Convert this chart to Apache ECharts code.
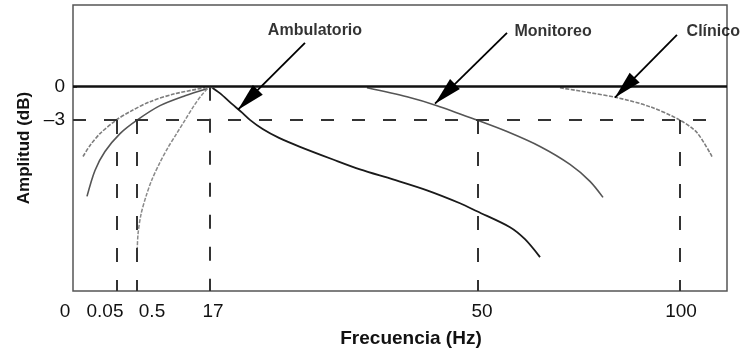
<!DOCTYPE html>
<html>
<head>
<meta charset="utf-8">
<script src="https://cdn.jsdelivr.net/npm/echarts@6/dist/echarts.min.js"></script>
<style>
  html, body { margin: 0; padding: 0; background: #ffffff; }
  #chart { width: 742px; height: 353px; }
</style>
</head>
<body>
<div id="chart"></div>
<script>
// x axis is a schematic (non-linear) frequency axis, expressed in relative units 0..100
const xTickLabels = ['0', '0.05', '0.5', '17', '50', '100'];
const xTickValues = [0, 4.89, 12.08, 21.41, 62.54, 92.97];
const yTickLabels = ['0', '\u20133'];
const yTickValues = [0, -3];

// cut-off frequencies (schematic axis units) and where their guide lines start (dB)
const cutoffX   = [6.73, 9.79, 20.95, 61.93, 92.81];
const cutoffTop = [-3, -3, 0, -3, -3];
const minus3End = 97.7;

// curves: [axis unit, dB]
const clinicoHP = [[1.53,-6.27],[2.60,-5.28],[4.13,-4.21],[6.6,-3.0],[8.72,-2.24],[11.77,-1.34],[15.60,-0.63],[20.18,-0.09]];
const clinicoLP = [[74.46,-0.09],[79.05,-0.54],[83.2,-0.98],[88.2,-1.79],[92.8,-3.0],[95.4,-4.12],[97.7,-6.27]];
const monitoreoHP = [[2.14,-9.85],[3.36,-7.52],[4.89,-5.82],[7.19,-4.21],[9.79,-3.0],[13.30,-1.70],[17.13,-0.81],[20.49,-0.18]];
const monitoreoLP = [[44.95,-0.09],[51.07,-0.90],[55.66,-1.70],[61.77,-3.0],[66.36,-4.03],[71.41,-5.37],[75.99,-6.98],[79.05,-8.50],[81.04,-9.94]];
const ambulatorioHP = [[9.79,-15.22],[9.94,-13.25],[10.40,-11.46],[11.16,-9.85],[12.08,-8.33],[13.30,-6.80],[14.53,-5.46],[15.75,-4.30],[17.13,-3.0],[18.50,-1.70],[19.72,-0.72],[20.95,0.05]];
const ambulatorioLP = [[20.95,0.05],[22.5,-0.6],[24.2,-1.5],[25.9,-2.35],[27.1,-3.0],[29.0,-3.8],[31.5,-4.6],[34.71,-5.4],[39.76,-6.54],[43.88,-7.43],[48.93,-8.33],[54.13,-9.31],[59.17,-10.47],[61.77,-11.19],[66.82,-12.62],[69.11,-13.7],[71.41,-15.31]];
const ambulatorioPeak = [[20.95, 0.25]];

// annotations
const annotationNames = ['Ambulatorio', 'Monitoreo', 'Cl\u00ednico'];
const annotationText  = [[37.0, 5.01], [73.4, 4.92], [97.9, 4.92]];
const arrowFrom = [[35.47, 3.94], [66.36, 4.83], [92.35, 4.66]];
const arrowTo   = [[25.23, -2.06], [55.35, -1.52], [82.87, -0.98]];

const yMin = -18.35, yMax = 7.34;

const chart = echarts.init(document.getElementById('chart'), null, { renderer: 'canvas' });

const refLines = [{ yAxis: 0, lineStyle: { color: '#111', width: 2.5, type: 'solid' } }];
refLines.push([{ coord: [0, -3], lineStyle: { color: '#333', width: 2, type: [13, 18] } }, { coord: [minus3End, -3] }]);
cutoffX.forEach((cx, i) => {
  refLines.push([{ coord: [cx, cutoffTop[i]], lineStyle: { color: '#333', width: 2, type: [14, 18] } }, { coord: [cx, yMin] }]);
});

const arrows = arrowFrom.map((p, i) => [{ coord: p }, { coord: arrowTo[i] }]);
// arrow head whose tip sits at the centre of its box (so the tip lands on the end point)
const arrowHead = 'path://M0,-28M0,0L7,28L-7,28Z';

const curveBase = { type: 'line', showSymbol: false, smooth: 0.3, silent: true, z: 3 };

const option = {
  animation: false,
  textStyle: { fontFamily: 'Liberation Sans, Arial, sans-serif' },
  grid: { left: 73, right: 15, top: 5, bottom: 61, show: true, borderColor: '#555', borderWidth: 1.5, containLabel: false },
  xAxis: {
    type: 'value', min: 0, max: 100,
    name: 'Frecuencia (Hz)', nameLocation: 'middle', nameGap: 38,
    nameTextStyle: { fontSize: 19, fontWeight: 'bold', color: '#111', padding: [0, 0, 0, 22] },
    axisLine: { show: false },
    splitLine: { show: false },
    axisTick: { show: false },
    axisLabel: {
      customValues: xTickValues, margin: 11, fontSize: 19, color: '#111',
      formatter: function (v) {
        const i = xTickValues.findIndex(t => Math.abs(t - v) < 1e-6);
        const s = i >= 0 ? xTickLabels[i] : '';
        return i === 0 ? '{z|' + s + '}' : s;
      },
      rich: { z: { fontSize: 19, color: '#111', padding: [0, 16, 0, 0] } }
    }
  },
  yAxis: {
    type: 'value', min: yMin, max: yMax,
    name: 'Amplitud (dB)', nameLocation: 'middle', nameGap: 40,
    nameTextStyle: { fontSize: 17, fontWeight: 'bold', color: '#111' },
    axisLine: { show: false },
    splitLine: { show: false },
    axisTick: { show: true, inside: true, length: 4, customValues: yTickValues, lineStyle: { color: '#333', width: 1.5 } },
    axisLabel: {
      customValues: yTickValues, margin: 8, fontSize: 19, color: '#111',
      formatter: function (v) {
        const i = yTickValues.findIndex(t => Math.abs(t - v) < 1e-6);
        return i >= 0 ? yTickLabels[i] : '';
      }
    }
  },
  series: [
    {
      type: 'line', name: 'referencias', data: [], silent: true, z: 2,
      markLine: { silent: true, symbol: 'none', label: { show: false }, data: refLines, animation: false }
    },
    Object.assign({}, curveBase, { name: 'Cl\u00ednico', data: clinicoHP, lineStyle: { color: '#7d7d7d', width: 1.6, type: [4, 1.5] } }),
    Object.assign({}, curveBase, { name: 'Cl\u00ednico', data: clinicoLP, lineStyle: { color: '#7d7d7d', width: 1.6, type: [4, 1.5] } }),
    Object.assign({}, curveBase, { name: 'Monitoreo', data: monitoreoHP, lineStyle: { color: '#555', width: 1.6 } }),
    Object.assign({}, curveBase, { name: 'Monitoreo', data: monitoreoLP, lineStyle: { color: '#555', width: 1.6 } }),
    Object.assign({}, curveBase, { name: 'Ambulatorio', data: ambulatorioHP, lineStyle: { color: '#8a8a8a', width: 1.5, type: [4, 1.5] } }),
    Object.assign({}, curveBase, { name: 'Ambulatorio', data: ambulatorioLP, lineStyle: { color: '#1a1a1a', width: 1.8 } }),
    {
      type: 'scatter', name: 'pico', data: ambulatorioPeak, symbol: 'emptyCircle', symbolSize: 8, silent: true, z: 4,
      itemStyle: { color: '#fff', borderColor: '#222', borderWidth: 1.5 }
    },
    {
      type: 'line', name: 'flechas', data: [], silent: true, z: 5,
      markLine: {
        silent: true, symbol: ['none', arrowHead], symbolSize: [14, 56],
        label: { show: false },
        itemStyle: { color: '#000' },
        lineStyle: { color: '#000', width: 1.8, type: 'solid' }, data: arrows, animation: false
      }
    },
    {
      type: 'scatter', name: 'etiquetas', silent: true, symbolSize: 0, z: 6,
      data: annotationText.map((p, i) => ({ value: p, name: annotationNames[i] })),
      label: { show: true, position: 'inside', formatter: '{b}', fontSize: 16, fontWeight: 'bold', color: '#000' }
    }
  ]
};
chart.setOption(option);
</script>
</body>
</html>
